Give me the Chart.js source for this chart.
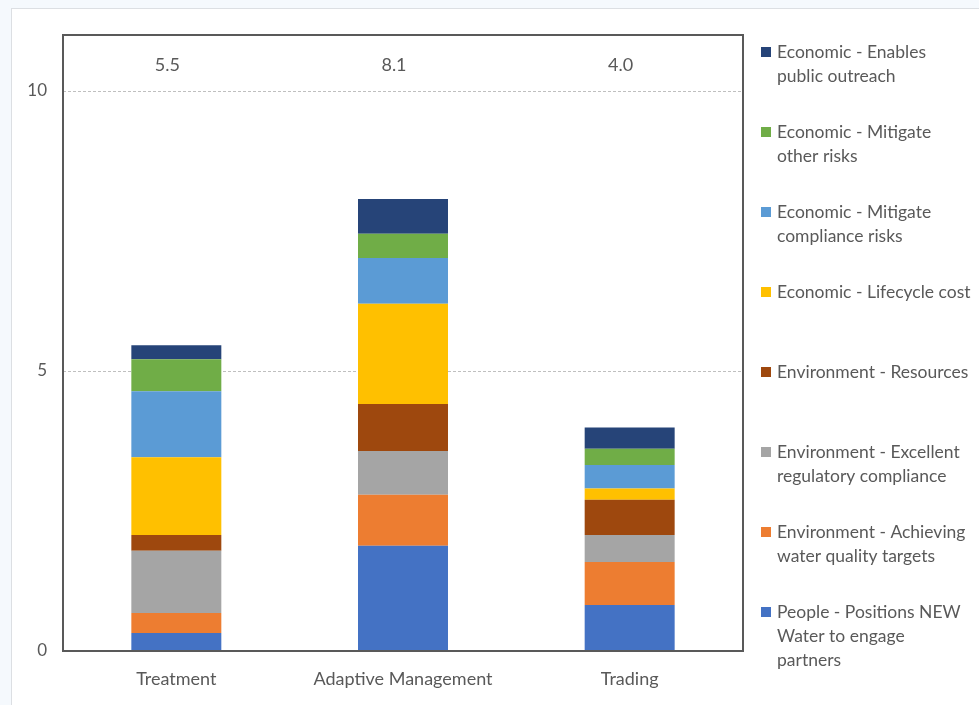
<!DOCTYPE html>
<html>
<head>
<meta charset="utf-8">
<title>Scores by approach</title>
<script src="https://cdn.jsdelivr.net/npm/chart.js@4.4.1/dist/chart.umd.min.js"></script>
<style>
  html, body { margin: 0; padding: 0; background: #f5f9fd; overflow: hidden; }
  #card { position: absolute; left: 11px; top: 8px; width: 1000px; height: 720px; background: #fff; border: 1px solid #dcdfe3; }
  #wrap { position: absolute; left: 0; top: 0; width: 979px; height: 705px; }
</style>
</head>
<body>
<div id="card"></div>
<div id="wrap"><canvas id="scoreChart" width="979" height="705"></canvas></div>
<script>
// categories and y axis ticks
var categories = ["Treatment", "Adaptive Management", "Trading"];
var yTicks = [0, 5, 10];

// series, bottom of the stack first
var seriesNames = [
    "People - Positions NEW\nWater to engage\npartners",
    "Environment - Achieving\nwater quality targets",
    "Environment - Excellent\nregulatory compliance",
    "Environment - Resources",
    "Economic - Lifecycle cost",
    "Economic - Mitigate\ncompliance risks",
    "Economic - Mitigate\nother risks",
    "Economic - Enables\npublic outreach"
];
var seriesColors = ["#4472c4", "#ed7d31", "#a5a5a5", "#9e480e", "#ffc000", "#5b9bd5", "#70ad47", "#264478"];

var peopleEngage = [0.32, 1.88, 0.82];
var envWaterQuality = [0.36, 0.91, 0.77];
var envCompliance = [1.11, 0.78, 0.48];
var envResources = [0.28, 0.84, 0.63];
var econLifecycle = [1.39, 1.79, 0.20];
var econComplianceRisk = [1.18, 0.82, 0.42];
var econOtherRisk = [0.57, 0.43, 0.29];
var econOutreach = [0.25, 0.62, 0.38];

var seriesValues = [peopleEngage, envWaterQuality, envCompliance, envResources,
    econLifecycle, econComplianceRisk, econOtherRisk, econOutreach];

var textColor = "#595959";
var fontFamily = "Lato, 'Open Sans', sans-serif";

// plot frame, totals above each bar and the legend on the right
var extrasPlugin = {
    id: "extras",
    afterDraw: function(chart) {
        var ctx = chart.ctx;
        var area = chart.chartArea;
        ctx.save();
        ctx.strokeStyle = textColor;
        ctx.lineWidth = 2;
        ctx.strokeRect(area.left, area.top, area.right - area.left, area.bottom - area.top);

        ctx.fillStyle = textColor;
        ctx.font = "18px " + fontFamily;
        ctx.textAlign = "center";
        ctx.textBaseline = "middle";
        var xScale = chart.scales.x;
        categories.forEach(function(cat, i) {
            var total = 0;
            chart.data.datasets.forEach(function(ds) { total += ds.data[i]; });
            ctx.fillText(total.toFixed(1), xScale.getPixelForValue(i) - 9, area.top + 30);
        });

        // legend, top entry is the last series
        ctx.textAlign = "left";
        ctx.font = "17.5px " + fontFamily;
        var n = chart.data.datasets.length;
        for (var k = 0; k < n; k++) {
            var ds = chart.data.datasets[n - 1 - k];
            var y = area.top + 17 + 80 * k;
            ctx.fillStyle = ds.backgroundColor;
            ctx.fillRect(761, y - 5, 10, 10);
            ctx.fillStyle = textColor;
            ds.label.split("\n").forEach(function(line, j) {
                ctx.fillText(line, 777, y + 24 * j);
            });
        }
        ctx.restore();
    }
};

var datasets = seriesValues.map(function(vals, i) {
    return {
        label: seriesNames[i],
        data: vals,
        backgroundColor: seriesColors[i],
        borderWidth: 0,
        categoryPercentage: 1.0,
        barPercentage: 0.397
    };
});

new Chart(document.getElementById("scoreChart"), {
    type: "bar",
    data: { labels: categories, datasets: datasets },
    options: {
        responsive: false,
        animation: false,
        layout: { padding: { top: 35, right: 236, left: 0, bottom: 0 } },
        plugins: {
            legend: { display: false },
            tooltip: { enabled: false }
        },
        scales: {
            x: {
                stacked: true,
                grid: { display: false },
                border: { display: false },
                ticks: { color: textColor, font: { family: fontFamily, size: 18 }, padding: 9 },
                afterFit: function(scale) { scale.height = 54; }
            },
            y: {
                stacked: true,
                min: 0,
                max: 11,
                grid: {
                    drawTicks: false,
                    color: function(c) { return c.tick && c.tick.value === 0 ? "rgba(0,0,0,0)" : "#bfbfbf"; }
                },
                border: { display: false, dash: [3, 2] },
                ticks: { color: textColor, font: { family: fontFamily, size: 17 }, padding: 16 },
                afterBuildTicks: function(scale) {
                    scale.ticks = yTicks.map(function(v) { return { value: v }; });
                },
                afterFit: function(scale) { scale.width = 63; }
            }
        }
    },
    plugins: [extrasPlugin]
});
</script>
</body>
</html>
